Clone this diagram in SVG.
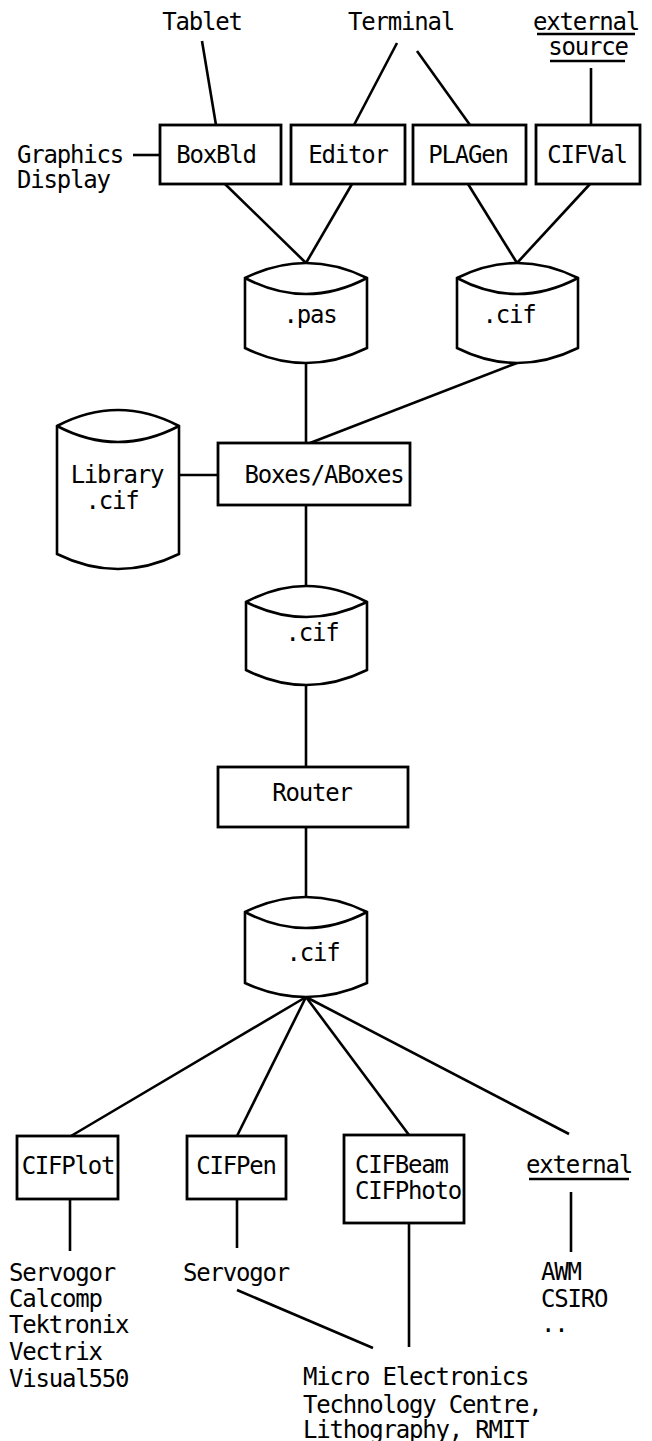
<svg xmlns="http://www.w3.org/2000/svg" width="652" height="1441" viewBox="0 0 652 1441">
<style>
.s{fill:none;stroke:#000;stroke-width:2.6;stroke-linejoin:round}
.n{fill:#fff;stroke:#000;stroke-width:2.8}
.c{fill:#fff;stroke:#000;stroke-width:2.6;stroke-linejoin:miter}
text{font-family:"DejaVu Sans Mono","Liberation Mono",monospace;font-size:24px;letter-spacing:-1.2px;fill:#000}
.m{text-anchor:middle}
</style>
<rect width="652" height="1441" fill="#fff"/>
<g id="connectors" class="s">
<line x1="202" y1="41" x2="216" y2="125"/>
<line x1="397" y1="43" x2="354" y2="125"/>
<line x1="417" y1="51" x2="470" y2="125"/>
<line x1="591" y1="68" x2="591" y2="125"/>
<line x1="133" y1="155" x2="160" y2="155"/>
<line x1="225" y1="184" x2="306" y2="263"/>
<line x1="352" y1="184" x2="306" y2="263"/>
<line x1="468" y1="184" x2="517" y2="263"/>
<line x1="590" y1="184" x2="517" y2="263"/>
<line x1="306" y1="363" x2="306" y2="443"/>
<line x1="517" y1="363" x2="310" y2="443"/>
<line x1="179" y1="475" x2="218" y2="475"/>
<line x1="306" y1="505" x2="306" y2="586"/>
<line x1="306" y1="685" x2="306" y2="767"/>
<line x1="306" y1="827" x2="306" y2="897"/>
<line x1="306" y1="997" x2="71" y2="1136"/>
<line x1="306" y1="997" x2="237" y2="1136"/>
<line x1="306" y1="997" x2="409" y2="1135"/>
<line x1="306" y1="997" x2="569" y2="1134"/>
<line x1="70" y1="1199" x2="70" y2="1251"/>
<line x1="237" y1="1199" x2="237" y2="1248"/>
<line x1="409" y1="1223" x2="409" y2="1347"/>
<line x1="571" y1="1192" x2="571" y2="1252"/>
<line x1="237" y1="1290" x2="373" y2="1348"/>
</g>
<g id="tablet"><text class="m" x="202" y="30">Tablet</text></g>
<g id="terminal"><text class="m" x="401" y="30">Terminal</text></g>
<g id="external-source">
<text class="m" x="586" y="30">external</text>
<line class="s" x1="537" y1="34" x2="635" y2="34"/>
<text class="m" x="588" y="55">source</text>
<line class="s" x1="550" y1="61" x2="625" y2="61"/>
</g>
<g id="graphics-display">
<text x="17" y="163">Graphics</text>
<text x="17" y="188">Display</text>
</g>
<g id="boxbld"><rect class="n" x="160" y="125" width="121" height="59"/><text class="m" x="216" y="163">BoxBld</text></g>
<g id="editor"><rect class="n" x="291" y="125" width="114" height="59"/><text class="m" x="348" y="163">Editor</text></g>
<g id="plagen"><rect class="n" x="413" y="125" width="113" height="59"/><text class="m" x="468" y="163">PLAGen</text></g>
<g id="cifval"><rect class="n" x="536" y="125" width="104" height="59"/><text class="m" x="587" y="163">CIFVal</text></g>
<g id="pas">
<path class="c" d="M245,278 Q306,248 367,278 L367,348 Q306,378 245,348 Z"/>
<path class="s" d="M245,278 Q306,310 367,278"/>
<text class="m" x="310" y="323">.pas</text>
</g>
<g id="cif1">
<path class="c" d="M457,278 Q517,248 578,278 L578,348 Q517,378 457,348 Z"/>
<path class="s" d="M457,278 Q517,310 578,278"/>
<text class="m" x="509" y="323">.cif</text>
</g>
<g id="library">
<path class="c" d="M57,426 Q118,394 179,426 L179,554 Q118,584 57,554 Z"/>
<path class="s" d="M57,426 Q118,458 179,426"/>
<text class="m" x="117" y="483">Library</text>
<text class="m" x="112" y="509">.cif</text>
</g>
<g id="boxes"><rect class="n" x="218" y="443" width="192" height="62"/><text class="m" x="324" y="483">Boxes/ABoxes</text></g>
<g id="cif2">
<path class="c" d="M246,602 Q306,570 367,602 L367,670 Q306,700 246,670 Z"/>
<path class="s" d="M246,602 Q306,632 367,602"/>
<text class="m" x="312" y="641">.cif</text>
</g>
<g id="router"><rect class="n" x="218" y="767" width="190" height="60"/><text class="m" x="312" y="801">Router</text></g>
<g id="cif3">
<path class="c" d="M245,912 Q306,882 367,912 L367,983 Q306,1011 245,983 Z"/>
<path class="s" d="M245,912 Q306,944 367,912"/>
<text class="m" x="313" y="961">.cif</text>
</g>
<g id="cifplot"><rect class="n" x="17" y="1136" width="101" height="63"/><text class="m" x="68" y="1174">CIFPlot</text></g>
<g id="cifpen"><rect class="n" x="187" y="1136" width="99" height="63"/><text class="m" x="236" y="1174">CIFPen</text></g>
<g id="cifbeam"><rect class="n" x="344" y="1135" width="120" height="88"/><text x="355" y="1173">CIFBeam</text><text x="355" y="1199">CIFPhoto</text></g>
<g id="external">
<text class="m" x="579" y="1173">external</text>
<line class="s" x1="529" y1="1179" x2="629" y2="1179"/>
</g>
<g id="plotters">
<text x="9" y="1281">Servogor</text>
<text x="9" y="1307">Calcomp</text>
<text x="9" y="1333">Tektronix</text>
<text x="9" y="1360">Vectrix</text>
<text x="9" y="1387">Visual550</text>
</g>
<g id="servogor"><text x="183" y="1281">Servogor</text></g>
<g id="awm">
<text x="541" y="1280">AWM</text>
<text x="541" y="1307">CSIRO</text>
<text x="541" y="1332">..</text>
</g>
<g id="metc">
<text x="303" y="1385">Micro Electronics</text>
<text x="303" y="1413">Technology Centre,</text>
<text x="303" y="1438">Lithography, RMIT</text>
</g>
</svg>
